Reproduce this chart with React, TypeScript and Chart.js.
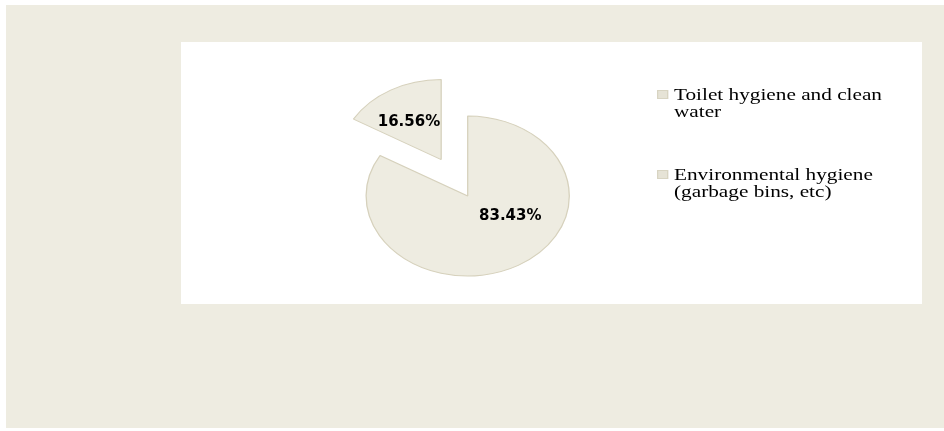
import React, { useEffect, useRef } from "react";
import { Chart, registerables } from "chart.js";

Chart.register(...registerables);

const categories: string[] = [
  "Toilet hygiene and clean water",
  "Environmental hygiene (garbage bins, etc)",
];
const shares: number[] = [83.43, 16.56];
const shareLabels: string[] = ["83.43%", "16.56%"];

const PAGE_BG = "#FFFFFF";
const OUTER_BG = "#EEECE1";
const SLICE_FILL = "#EEECE1";
const SLICE_BORDER = "#D6D1BC";
const STRETCH_X = 1.27;
const EXPLODE = [0, 42];
const LABEL_DIST = [0.49, 0.57];
const LABEL_TURN_DEG = [-29, -4];

export default function App() {
  const canvasRef = useRef<HTMLCanvasElement | null>(null);

  useEffect(() => {
    const canvas = canvasRef.current;
    if (!canvas) return;

    const explodePlugin = {
      id: "explodeStretch",
      beforeDatasetsDraw(chart: any) {
        const ctx = chart.ctx as CanvasRenderingContext2D;
        const meta = chart.getDatasetMeta(0);
        meta.data.forEach((arc: any, i: number) => {
          const mid = (arc.startAngle + arc.endAngle) / 2;
          const o = EXPLODE[i] || 0;
          ctx.save();
          ctx.translate(arc.x, arc.y);
          ctx.scale(STRETCH_X, 1);
          ctx.translate(o * Math.cos(mid), o * Math.sin(mid));
          ctx.translate(-arc.x, -arc.y);
          arc.draw(ctx);
          ctx.restore();
        });
        // labels
        ctx.save();
        ctx.font = "bold 15px 'DejaVu Sans', Verdana, sans-serif";
        ctx.fillStyle = "#000000";
        ctx.textAlign = "center";
        ctx.textBaseline = "middle";
        meta.data.forEach((arc: any, i: number) => {
          const mid = (arc.startAngle + arc.endAngle) / 2;
          const o = EXPLODE[i] || 0;
          const a = mid + (LABEL_TURN_DEG[i] * Math.PI) / 180;
          const d = LABEL_DIST[i] * arc.outerRadius;
          const ux = o * Math.cos(mid) + d * Math.cos(a);
          const uy = o * Math.sin(mid) + d * Math.sin(a);
          ctx.fillText(shareLabels[i], arc.x + ux * STRETCH_X, arc.y + uy);
        });
        ctx.restore();
        return false;
      },
    };

    const chart = new Chart(canvas, {
      type: "pie",
      data: {
        labels: categories,
        datasets: [
          {
            data: shares,
            backgroundColor: [SLICE_FILL, SLICE_FILL],
            borderColor: SLICE_BORDER,
            borderWidth: 1,
            radius: 80,
            clip: false,
          } as any,
        ],
      },
      options: {
        responsive: false,
        animation: false,
        events: [],
        radius: 80,
        layout: { padding: { left: 0, right: 167.6, top: 46, bottom: 0 } },
        plugins: {
          legend: { display: false },
          tooltip: { enabled: false },
        },
      } as any,
      plugins: [explodePlugin],
    });
    return () => chart.destroy();
  }, []);

  return (
    <div
      style={{
        position: "fixed",
        left: 0,
        top: 0,
        width: 944,
        height: 431,
        background: PAGE_BG,
        overflow: "hidden",
      }}
    >
      <div
        style={{
          position: "absolute",
          left: 6,
          top: 5,
          width: 938,
          height: 423,
          background: OUTER_BG,
        }}
      />
      <div
        style={{
          position: "absolute",
          left: 181,
          top: 42,
          width: 741,
          height: 262,
          background: "#FFFFFF",
        }}
      >
        <canvas
          ref={canvasRef}
          width={741}
          height={262}
          style={{ width: 741, height: 262, display: "block" }}
        />
      </div>
      {categories.map((c, i) => (
        <div
          key={c}
          style={{
            position: "absolute",
            left: 657,
            top: 86 + i * 80,
            transform: `scaleX(1.25)`,
            transformOrigin: "left top",
            display: "flex",
            alignItems: "flex-start",
            fontFamily: "'Liberation Serif', 'Times New Roman', serif",
            fontSize: 17,
            lineHeight: "17px",
            color: "#000",
          }}
        >
          <div
            style={{
              width: 7,
              height: 7,
              marginTop: 3.5,
              marginRight: 4.6,
              background: "#E6E3D6",
              border: "1px solid #D8D4C2",
              flex: "none",
            }}
          />
          <div style={{ width: 180 }}>{c}</div>
        </div>
      ))}
    </div>
  );
}
